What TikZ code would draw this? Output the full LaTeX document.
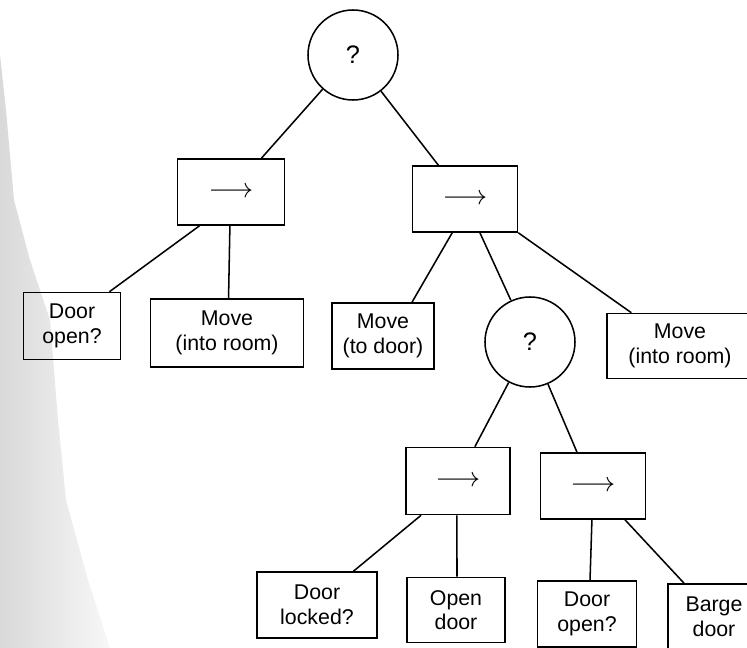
\documentclass[tikz,border=0pt]{standalone}
\usepackage{fontspec}
\setmainfont{Liberation Sans}
\usetikzlibrary{calc}

\tikzset{
  px/.style={x=0.75pt, y=-0.75pt},
  link/.style={line width=1.15pt},
  box/.style={draw, line width=1.15pt, inner sep=0pt, align=center,
    font=\fontsize{16}{18.5}\selectfont},
  selector/.style={draw, circle, line width=1.15pt, inner sep=0pt,
    minimum size=90*0.75pt, font=\fontsize{19}{20}\selectfont},
  seqbox/.style={box, font=\fontsize{21.5}{22}\selectfont},
}
\newcommand\seqarrow{\raisebox{-1.5pt}{$\longrightarrow$}}

\begin{document}
\begin{tikzpicture}[px]
  \useasboundingbox (0,0) rectangle (747,648);

  % grey margin shadow along the left edge of the page
  \shade[left color=black!15, right color=black!3]
    (0,55) -- (6,110) -- (14,200) -- (30,260) -- (50,320) -- (58,420)
    -- (66,500) -- (88,580) -- (110,648) -- (0,648) -- cycle;

  % selector nodes
  \node[selector] (root) at (353,55) {?};
  \node[selector] (sel2) at (530,342) {?};

  % sequence nodes
  \node[seqbox, minimum width=107*0.75pt, minimum height=66*0.75pt] (seqL) at (231,192) {\seqarrow};
  \node[seqbox, minimum width=105*0.75pt, minimum height=66*0.75pt] (seqR) at (465,199) {\seqarrow};
  \node[seqbox, minimum width=104*0.75pt, minimum height=67*0.75pt] (seqC) at (458,481) {\seqarrow};
  \node[seqbox, minimum width=105*0.75pt, minimum height=66*0.75pt] (seqD) at (593,486) {\seqarrow};

  % leaf actions and conditions
  \node[box, minimum width=97*0.75pt, minimum height=67*0.75pt] (openA) at (72,326) {Door\\open?};
  \node[box, minimum width=153*0.75pt, minimum height=68*0.75pt] (roomA) at (227,333) {Move\\(into room)};
  \node[box, minimum width=102*0.75pt, minimum height=66*0.75pt] (toDoor) at (383,336) {Move\\(to door)};
  \node[box, minimum width=146*0.75pt, minimum height=65*0.75pt] (roomB) at (680,346) {Move\\(into room)};
  \node[box, minimum width=120*0.75pt, minimum height=66*0.75pt] (locked) at (317,605) {Door\\locked?};
  \node[box, minimum width=98*0.75pt, minimum height=65*0.75pt] (openDoor) at (456,610) {Open\\door};
  \node[box, minimum width=99*0.75pt, minimum height=66*0.75pt] (openB) at (587,614) {Door\\open?};
  \node[box, minimum width=92*0.75pt, minimum height=66*0.75pt] (barge) at (714,617) {Barge\\door};

  % connectors
  \draw[link] (root) -- ($(seqL.north west)!0.78!(seqL.north east)$);
  \draw[link] (root) -- ($(seqR.north west)!0.25!(seqR.north east)$);

  \draw[link] ($(seqL.south west)!0.21!(seqL.south east)$) -- ($(openA.north west)!0.88!(openA.north east)$);
  \draw[link] ($(seqL.south west)!0.49!(seqL.south east)$) -- ($(roomA.north west)!0.51!(roomA.north east)$);

  \draw[link] ($(seqR.south west)!0.38!(seqR.south east)$) -- ($(toDoor.north west)!0.78!(toDoor.north east)$);
  \draw[link] ($(seqR.south west)!0.64!(seqR.south east)$) -- (sel2);
  \draw[link] (seqR.south east) -- ($(roomB.north west)!0.17!(roomB.north east)$);

  \draw[link] (sel2) -- ($(seqC.north west)!0.66!(seqC.north east)$);
  \draw[link] (sel2) -- ($(seqD.north west)!0.35!(seqD.north east)$);

  \draw[link] ($(seqC.south west)!0.15!(seqC.south east)$) -- ($(locked.north west)!0.8!(locked.north east)$);
  \draw[link] ($(seqC.south west)!0.49!(seqC.south east)$) -- ($(openDoor.north west)!0.51!(openDoor.north east)$);

  \draw[link] ($(seqD.south west)!0.49!(seqD.south east)$) -- ($(openB.north west)!0.53!(openB.north east)$);
  \draw[link] ($(seqD.south west)!0.80!(seqD.south east)$) -- ($(barge.north west)!0.18!(barge.north east)$);
\end{tikzpicture}
\end{document}
